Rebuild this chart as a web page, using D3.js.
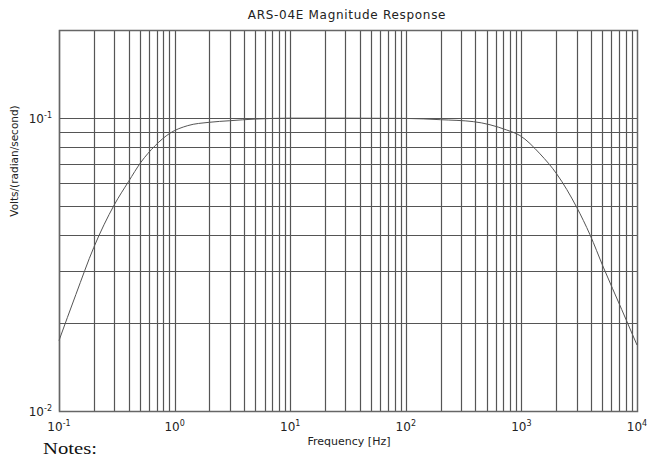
<!DOCTYPE html>
<html>
<head>
<meta charset="utf-8">
<script src="https://cdn.jsdelivr.net/npm/d3@7"></script>
<style>
  body { margin: 0; background: #fff; }
  svg { display: block; }
</style>
</head>
<body>
<svg id="chart"></svg>
<script>
// Response curve
const freqHz = [0.1, 0.14, 0.2, 0.3, 0.4, 0.51, 0.68, 0.91, 1.3, 2, 3, 5, 10, 30, 100, 200, 384, 746, 972, 1450, 2020, 3010, 3920, 5110, 7380, 10000]
const magnitude = [0.0174, 0.025, 0.0362, 0.0505, 0.0608, 0.0706, 0.0806, 0.0888, 0.0943, 0.0968, 0.098, 0.0993, 0.1, 0.1, 0.0998, 0.0988, 0.0973, 0.0911, 0.0872, 0.0755, 0.0645, 0.0496, 0.04, 0.031, 0.0222, 0.0168]

// Tick labels (exponents of 10)
const xTickExps = ['-1', '0', '1', '2', '3', '4']
const yTickExps = ['-2', '-1']
const yGridValues = [0.02, 0.03, 0.04, 0.05, 0.06, 0.07, 0.08, 0.09, 0.1]

const title = 'ARS-04E Magnitude Response'
const xTitle = 'Frequency [Hz]'
const yTitle = 'Volts/(radian/second)'
const note = 'Notes:'

const width = 647
const height = 458
const margin = { top: 30, right: 10, bottom: 47, left: 59 }

const svg = d3.select('#chart')
  .attr('width', width)
  .attr('height', height)

const x = d3.scaleLog()
  .domain([0.1, 10000])
  .range([margin.left, width - margin.right])

const y = d3.scaleLog()
  .domain([0.01, 0.2])
  .range([height - margin.bottom, margin.top])

const gridColor = '#555'
const labelFont = '"DejaVu Sans", sans-serif'

// vertical grid: 1..9 in every decade
const xGridValues = []
for (let e = -1; e < 4; e++) {
  for (let m = 1; m < 10; m++) xGridValues.push(m * Math.pow(10, e))
}

const grid = svg.append('g')
grid.selectAll('line.v')
  .data(xGridValues)
  .join('line')
  .attr('class', 'v')
  .attr('x1', d => Math.round(x(d)) + 0.5)
  .attr('x2', d => Math.round(x(d)) + 0.5)
  .attr('y1', y.range()[1])
  .attr('y2', y.range()[0])
  .attr('stroke', gridColor)
  .attr('stroke-width', 1.2)

grid.selectAll('line.h')
  .data(yGridValues)
  .join('line')
  .attr('class', 'h')
  .attr('x1', x.range()[0])
  .attr('x2', x.range()[1])
  .attr('y1', d => Math.round(y(d)) + 0.5)
  .attr('y2', d => Math.round(y(d)) + 0.5)
  .attr('stroke', gridColor)
  .attr('stroke-width', 1.2)

// frame
svg.append('rect')
  .attr('x', x.range()[0] + 0.5)
  .attr('y', y.range()[1] + 0.5)
  .attr('width', x.range()[1] - x.range()[0])
  .attr('height', y.range()[0] - y.range()[1])
  .attr('fill', 'none')
  .attr('stroke', '#666')
  .attr('stroke-width', 1.5)

// curve
const line = d3.line()
  .x((d, i) => x(freqHz[i]))
  .y(d => y(d))
  .curve(d3.curveMonotoneX)

svg.append('path')
  .attr('d', line(magnitude))
  .attr('fill', 'none')
  .attr('stroke', '#555')
  .attr('stroke-width', 1)

// x tick labels
const xLabels = svg.append('g')
  .attr('font-family', labelFont)
  .attr('font-size', 12)
  .attr('fill', '#222')
xTickExps.forEach(e => {
  const t = xLabels.append('text')
    .attr('x', x(Math.pow(10, +e)))
    .attr('y', 431)
    .attr('text-anchor', 'middle')
  t.append('tspan').text('10')
  t.append('tspan').attr('font-size', 8).attr('dy', -5).text(e)
})

// y tick labels
const yLabels = svg.append('g')
  .attr('font-family', labelFont)
  .attr('font-size', 12)
  .attr('fill', '#222')
yTickExps.forEach(e => {
  const t = yLabels.append('text')
    .attr('x', 52)
    .attr('y', y(Math.pow(10, +e)) + 5)
    .attr('text-anchor', 'end')
  t.append('tspan').text('10')
  t.append('tspan').attr('font-size', 8).attr('dy', -5).text(e)
})

// titles
svg.append('text')
  .attr('x', 347)
  .attr('y', 19)
  .attr('text-anchor', 'middle')
  .attr('font-family', labelFont)
  .attr('font-size', 12)
  .attr('letter-spacing', 0.7)
  .attr('fill', '#222')
  .text(title)

svg.append('text')
  .attr('x', 349)
  .attr('y', 445)
  .attr('text-anchor', 'middle')
  .attr('font-family', labelFont)
  .attr('font-size', 11)
  .attr('fill', '#222')
  .text(xTitle)

svg.append('text')
  .attr('transform', 'translate(18,161) rotate(-90)')
  .attr('text-anchor', 'middle')
  .attr('font-family', labelFont)
  .attr('font-size', 10.5)
  .attr('fill', '#222')
  .text(yTitle)

svg.append('text')
  .attr('x', 43)
  .attr('y', 454)
  .attr('font-family', '"Liberation Serif", serif')
  .attr('font-size', 16)
  .attr('textLength', 54)
  .attr('lengthAdjust', 'spacingAndGlyphs')
  .attr('fill', '#111')
  .text(note)
</script>
</body>
</html>
